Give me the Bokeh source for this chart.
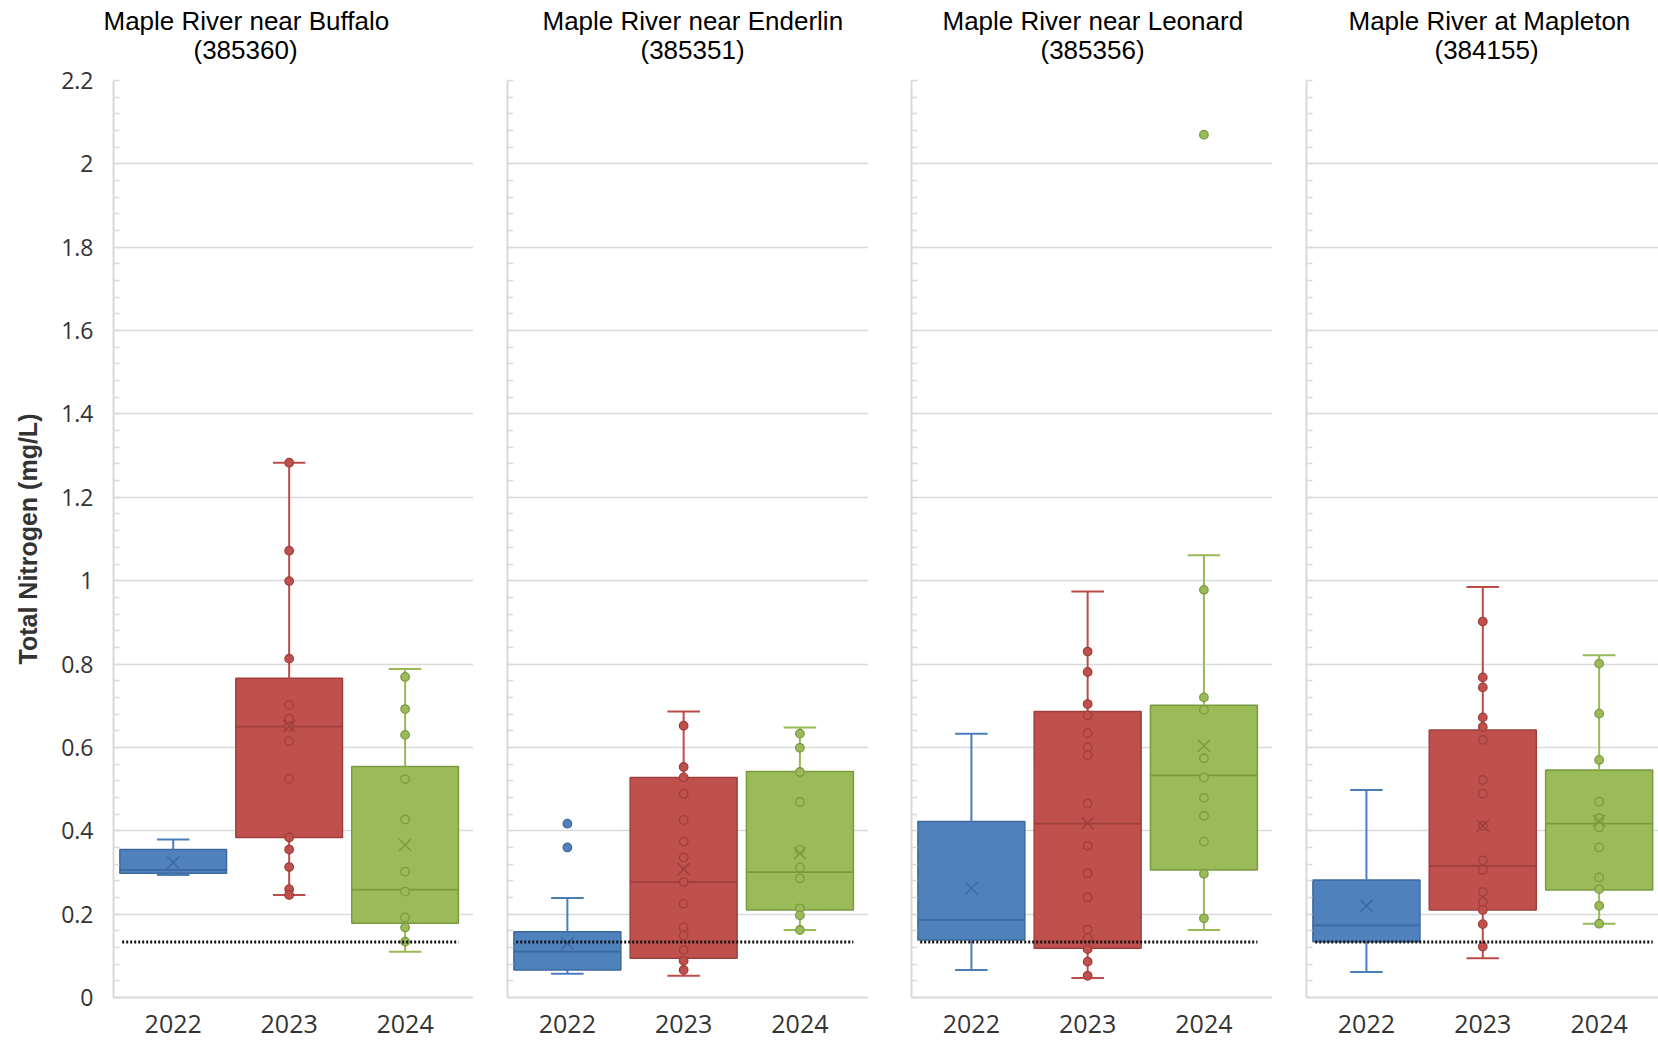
from bokeh.plotting import figure
from bokeh.models import FixedTicker, Title, ColumnDataSource
from bokeh.layouts import row
from bokeh.embed import file_html
from bokeh.resources import INLINE

# ---------------- data ----------------
years = ["2022", "2023", "2024"]
station_names = ["Maple River near Buffalo", "Maple River near Enderlin",
                 "Maple River near Leonard", "Maple River at Mapleton"]
station_ids = ["(385360)", "(385351)", "(385356)", "(384155)"]

y_tick_values = [0, 0.2, 0.4, 0.6, 0.8, 1, 1.2, 1.4, 1.6, 1.8, 2, 2.2]
y_tick_labels = ["0", "0.2", "0.4", "0.6", "0.8", "1", "1.2", "1.4", "1.6", "1.8", "2", "2.2"]

reference_value = 0.133

# Buffalo (385360)
buffalo_q1 = [0.298, 0.384, 0.178]
buffalo_median = [0.306, 0.650, 0.259]
buffalo_q3 = [0.355, 0.766, 0.554]
buffalo_low = [0.294, 0.246, 0.110]
buffalo_high = [0.379, 1.283, 0.788]
buffalo_mean = [0.324, 0.651, 0.366]
buffalo_pts_2022 = []
buffalo_pts_2023 = [1.283, 1.072, 0.999, 0.813, 0.702, 0.669, 0.650, 0.615, 0.525, 0.384, 0.355, 0.313, 0.260, 0.246]
buffalo_pts_2024 = [0.769, 0.692, 0.630, 0.524, 0.427, 0.302, 0.254, 0.192, 0.168, 0.134]

# Enderlin (385351)
enderlin_q1 = [0.066, 0.094, 0.210]
enderlin_median = [0.110, 0.277, 0.301]
enderlin_q3 = [0.158, 0.528, 0.542]
enderlin_low = [0.057, 0.052, 0.162]
enderlin_high = [0.239, 0.686, 0.648]
enderlin_mean = [0.130, 0.308, 0.346]
enderlin_pts_2022 = [0.417, 0.360]
enderlin_pts_2023 = [0.652, 0.553, 0.528, 0.489, 0.426, 0.374, 0.336, 0.277, 0.225, 0.168, 0.149, 0.114, 0.088, 0.066]
enderlin_pts_2024 = [0.633, 0.599, 0.541, 0.469, 0.354, 0.312, 0.286, 0.214, 0.197, 0.162]

# Leonard (385356)
leonard_q1 = [0.138, 0.118, 0.306]
leonard_median = [0.186, 0.417, 0.533]
leonard_q3 = [0.422, 0.686, 0.701]
leonard_low = [0.066, 0.047, 0.162]
leonard_high = [0.633, 0.974, 1.061]
leonard_mean = [0.262, 0.418, 0.604]
leonard_pts_2022 = []
leonard_pts_2023 = [0.830, 0.781, 0.704, 0.677, 0.634, 0.600, 0.581, 0.465, 0.364, 0.298, 0.240, 0.163, 0.143, 0.116, 0.086, 0.052]
leonard_pts_2024 = [2.070, 0.978, 0.720, 0.690, 0.574, 0.528, 0.479, 0.436, 0.374, 0.297, 0.190]

# Mapleton (384155)
mapleton_q1 = [0.134, 0.210, 0.258]
mapleton_median = [0.173, 0.316, 0.417]
mapleton_q3 = [0.282, 0.642, 0.546]
mapleton_low = [0.061, 0.094, 0.177]
mapleton_high = [0.498, 0.985, 0.821]
mapleton_mean = [0.220, 0.412, 0.424]
mapleton_pts_2022 = []
mapleton_pts_2023 = [0.902, 0.768, 0.744, 0.672, 0.649, 0.618, 0.522, 0.489, 0.412, 0.329, 0.306, 0.253, 0.229, 0.210, 0.176, 0.122]
mapleton_pts_2024 = [0.801, 0.681, 0.570, 0.470, 0.430, 0.408, 0.360, 0.288, 0.260, 0.220, 0.177]

# ---------------- style / layout ----------------
fills = ["#4F81BD", "#C0504D", "#9BBB59"]
edges = ["#3D6A9E", "#9E3F3C", "#7B9A40"]
whisk = ["#4A7EBB", "#BE4B48", "#98B954"]
grid_col = "#D9D9D9"

BOX_W = 0.92
CAP_W = 0.28
FIG_H = 1041
FRAME_H = 917
TOP_B = 80
X_MIN = -0.515

panels = [
    dict(q1=buffalo_q1, med=buffalo_median, q3=buffalo_q3, lo=buffalo_low, hi=buffalo_high,
         mean=buffalo_mean, pts=[buffalo_pts_2022, buffalo_pts_2023, buffalo_pts_2024]),
    dict(q1=enderlin_q1, med=enderlin_median, q3=enderlin_q3, lo=enderlin_low, hi=enderlin_high,
         mean=enderlin_mean, pts=[enderlin_pts_2022, enderlin_pts_2023, enderlin_pts_2024]),
    dict(q1=leonard_q1, med=leonard_median, q3=leonard_q3, lo=leonard_low, hi=leonard_high,
         mean=leonard_mean, pts=[leonard_pts_2022, leonard_pts_2023, leonard_pts_2024]),
    dict(q1=mapleton_q1, med=mapleton_median, q3=mapleton_q3, lo=mapleton_low, hi=mapleton_high,
         mean=mapleton_mean, pts=[mapleton_pts_2022, mapleton_pts_2023, mapleton_pts_2024]),
]

fig_widths = [473, 395, 404, 386]
left_borders = [113, 34, 43, 34]
x_max = [2.59, 2.59, 2.59, 2.51]
name_offsets = [-10, 35, 31, 42]
id_offsets = [80, 133, 129, 128]

y_minor = [round(i * 0.04, 2) for i in range(56)]

figs = []
for k, d in enumerate(panels):
    xs = list(range(len(years)))
    p = figure(width=fig_widths[k], height=FIG_H, x_range=(X_MIN, x_max[k]), y_range=(0, 2.2),
               output_backend="svg", toolbar_location=None, title=None,
               min_border_left=left_borders[k], min_border_right=0,
               min_border_top=TOP_B, min_border_bottom=FIG_H - TOP_B - FRAME_H)
    p.outline_line_color = None
    p.background_fill_color = "white"

    # titles (second line first: it sits closest to the plot)
    p.add_layout(Title(text=station_ids[k], align="left", offset=id_offsets[k],
                       vertical_align="top",
                       text_font="Liberation Sans", text_font_size="26px",
                       text_font_style="normal", text_color="#000000",
                       standoff=28), "above")
    p.add_layout(Title(text=station_names[k], align="left", offset=name_offsets[k],
                       vertical_align="bottom",
                       text_font="Liberation Sans", text_font_size="26px",
                       text_font_style="normal", text_color="#000000",
                       standoff=-31), "above")

    # axes
    yt = FixedTicker(ticks=y_tick_values, minor_ticks=y_minor)
    p.yaxis.ticker = yt
    p.ygrid.ticker = yt
    p.ygrid.grid_line_color = grid_col
    p.ygrid.grid_line_width = 1.5
    p.xgrid.visible = False
    for ax in (p.xaxis[0], p.yaxis[0]):
        ax.axis_line_color = grid_col
        ax.axis_line_width = 2
        ax.major_tick_in = 0
        ax.major_tick_out = 0
    p.yaxis.minor_tick_in = 6
    p.yaxis.minor_tick_out = 0
    p.yaxis.minor_tick_line_color = grid_col
    p.yaxis.minor_tick_line_width = 1.5
    p.yaxis.major_label_text_font = "Open Sans"
    p.yaxis.major_label_text_font_size = "23px"
    p.yaxis.major_label_text_color = "#333333"
    if k == 0:
        p.yaxis.major_label_overrides = {v: l for v, l in zip(y_tick_values, y_tick_labels)}
        p.yaxis.major_label_standoff = 20
        p.yaxis.axis_label = "Total Nitrogen (mg/L)"
        p.yaxis.axis_label_text_font = "Liberation Sans"
        p.yaxis.axis_label_text_font_size = "25px"
        p.yaxis.axis_label_text_font_style = "bold"
        p.yaxis.axis_label_text_color = "#333333"
        p.yaxis.axis_label_standoff = 16
    else:
        p.yaxis.major_label_overrides = {v: "" for v in y_tick_values}
        p.yaxis.major_label_standoff = 0

    p.xaxis.ticker = FixedTicker(ticks=xs)
    p.xaxis.major_label_overrides = {x: y for x, y in zip(xs, years)}
    p.xaxis.major_label_text_font = "Open Sans"
    p.xaxis.major_label_text_font_size = "25px"
    p.xaxis.major_label_text_color = "#333333"
    p.xaxis.major_label_standoff = 17

    # boxes
    src = ColumnDataSource(dict(
        x=xs, q1=d["q1"], med=d["med"], q3=d["q3"], lo=d["lo"], hi=d["hi"], mean=d["mean"],
        fill=fills, edge=edges, wc=whisk,
        xl=[x - BOX_W / 2 for x in xs], xr=[x + BOX_W / 2 for x in xs],
        cl=[x - CAP_W / 2 for x in xs], cr=[x + CAP_W / 2 for x in xs],
    ))
    p.vbar(x="x", width=BOX_W, bottom="q1", top="q3", fill_color="fill", line_color="edge",
           line_width=1.5, source=src)
    p.segment(x0="x", y0="q3", x1="x", y1="hi", line_color="wc", line_width=2, source=src)
    p.segment(x0="x", y0="q1", x1="x", y1="lo", line_color="wc", line_width=2, source=src)
    p.segment(x0="cl", y0="hi", x1="cr", y1="hi", line_color="wc", line_width=2, source=src)
    p.segment(x0="cl", y0="lo", x1="cr", y1="lo", line_color="wc", line_width=2, source=src)
    p.segment(x0="xl", y0="med", x1="xr", y1="med", line_color="edge", line_width=1.8, source=src)

    # points
    px, py, pf, pe = [], [], [], []
    for i, vals in enumerate(d["pts"]):
        for v in vals:
            px.append(xs[i]); py.append(v); pf.append(fills[i]); pe.append(edges[i])
    p.scatter(x=px, y=py, marker="circle", size=8.5, fill_color=pf, line_color=pe, line_width=1.3)

    # means
    p.scatter(x="x", y="mean", marker="x", size=17, line_color="edge", line_width=1.5, source=src)

    # reference line
    p.line(x=[xs[0] - 0.44, xs[-1] + 0.46], y=[reference_value, reference_value],
           line_color="#111111", line_width=3, line_dash="2 2")

    figs.append(p)

layout = row(*figs, spacing=0)
open("out.html", "w").write(file_html(layout, INLINE))
